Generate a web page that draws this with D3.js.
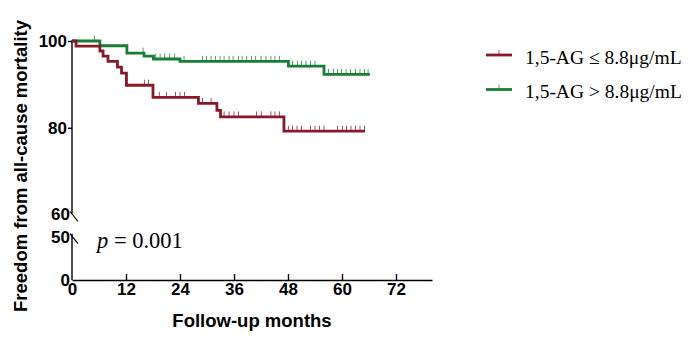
<!DOCTYPE html>
<html>
<head>
<meta charset="utf-8">
<script src="https://cdn.jsdelivr.net/npm/d3@7"></script>
<style>
  body { margin: 0; background: #fff; }
</style>
</head>
<body>
<div id="km"></div>
<script>
// Kaplan-Meier steps (months, % surviving)
let redTimes = [0, 0.9, 6.2, 6.9, 8.0, 10.1, 11.0, 12.1, 18.0, 28.1, 32.2, 33.0, 47.1, 65.1];
let redSurv  = [100, 98.8, 97.7, 96.5, 95.3, 94.0, 92.6, 89.8, 87.0, 85.6, 84.0, 82.5, 79.2, 79.2];
let redCensor = [16.1, 17.0, 19.4, 21.0, 23.0, 24.0, 25.0, 29.0, 30.9, 33.8, 34.9, 36.0, 37.0, 41.0, 42.1,
                 44.2, 45.1, 46.1, 48.1, 49.0, 50.0, 51.0, 53.0, 54.0, 55.0, 56.0, 59.0, 60.1, 61.0, 62.0,
                 63.0, 64.0, 65.0];

let greenTimes = [0, 6.2, 12.2, 16.0, 18.1, 24.0, 48.1, 56.0, 66.2];
let greenSurv  = [100, 98.9, 97.2, 96.5, 95.85, 95.3, 94.2, 92.3, 92.3];
let greenCensor = [5.0, 15.8, 18.6, 19.6, 20.6, 21.7, 22.8, 24.9, 29.0, 29.9, 30.9, 31.9, 32.9, 33.8, 34.9,
                   35.8, 37.0, 37.8, 38.8, 39.9, 40.8, 42.0, 43.1, 44.2, 45.1, 46.1, 49.0, 50.1, 51.0, 52.0,
                   53.0, 54.0, 57.0, 58.1, 59.0, 59.9, 60.9, 61.9, 63.0, 64.0, 65.0, 65.8];

let xTicks = [0, 12, 24, 36, 48, 60, 72];
let yTicksUpper = [60, 80, 100];
let yTicksLower = [0, 50];
let groupNames = ["1,5-AG \u2264 8.8\u03bcg/mL", "1,5-AG > 8.8\u03bcg/mL"];
let pText = "0.001";

let red = "#871a2a", green = "#1a7d35";
let sans = "'Liberation Sans', Arial, sans-serif";
let serif = "'Liberation Serif', 'Times New Roman', serif";

let width = 688, height = 343;
let plot = {left: 72, right: 432, top: 41, breakTop: 214.5, breakBottom: 236.7, bottom: 280};

let svg = d3.select("#km").append("svg")
    .attr("width", width)
    .attr("height", height);

let x = d3.scaleLinear().domain([0, 80]).range([plot.left, plot.right]);
// broken y axis: two pieces
let yUp = d3.scaleLinear().domain([60, 100]).range([plot.breakTop, plot.top]);
let yLow = d3.scaleLinear().domain([0, 50]).range([plot.bottom, plot.breakBottom]);

function survAt(T, S, t) {
    let s = S[0];
    for (let i = 0; i < T.length; i++) { if (T[i] <= t) s = S[i]; }
    return s;
}

function styleLabels(g) {
    g.attr("font-family", sans).attr("font-size", 17).attr("font-weight", "bold");
    g.selectAll("text").attr("fill", "#000");
}

// x axis
let xAxis = svg.append("g")
    .attr("transform", "translate(0," + plot.bottom + ")")
    .call(d3.axisBottom(x).tickValues(xTicks).tickSizeInner(-6).tickSizeOuter(0).tickPadding(3));
xAxis.select(".domain").attr("stroke", "#000").attr("stroke-width", 1.4);
xAxis.selectAll(".tick line").attr("stroke", "#000").attr("stroke-width", 1.4)
    .filter(d => d === 0).remove();
styleLabels(xAxis);

// y axis upper
let yAxisU = svg.append("g")
    .attr("transform", "translate(" + plot.left + ",0)")
    .call(d3.axisLeft(yUp).tickValues(yTicksUpper).tickSizeInner(4).tickSizeOuter(0).tickPadding(1));
yAxisU.select(".domain").remove();
yAxisU.selectAll(".tick line").attr("stroke", "#000").attr("stroke-width", 1.4)
    .filter(d => d === 60).remove();
styleLabels(yAxisU);
yAxisU.selectAll("text").filter(d => d === 60).attr("x", -2);

// y axis lower
let yAxisL = svg.append("g")
    .attr("transform", "translate(" + plot.left + ",0)")
    .call(d3.axisLeft(yLow).tickValues(yTicksLower).tickSize(0).tickPadding(2));
yAxisL.select(".domain").remove();
styleLabels(yAxisL);

// axis lines with break marks
svg.append("line")
    .attr("x1", plot.left).attr("x2", plot.left)
    .attr("y1", plot.top - 0.7).attr("y2", yUp(60) - 1)
    .attr("stroke", "#000").attr("stroke-width", 1.4);
svg.append("line")
    .attr("x1", plot.left).attr("x2", plot.left)
    .attr("y1", yLow(50) - 3).attr("y2", plot.bottom)
    .attr("stroke", "#000").attr("stroke-width", 1.4);
[yUp(60), yLow(50)].forEach(yy => {
    svg.append("line")
        .attr("x1", plot.left - 2).attr("y1", yy - 3)
        .attr("x2", plot.left + 6).attr("y2", yy + 7)
        .attr("stroke", "#000").attr("stroke-width", 1.2);
});

// curves
let line = d3.line()
    .x(d => x(d[0]))
    .y(d => yUp(d[1]))
    .curve(d3.curveStepAfter);

function drawGroup(T, S, C, col) {
    svg.append("path")
        .datum(d3.zip(T, S))
        .attr("fill", "none")
        .attr("stroke", col)
        .attr("stroke-width", 2.8)
        .attr("d", line);
    svg.selectAll(null)
        .data(C)
        .enter().append("line")
        .attr("x1", d => x(d)).attr("x2", d => x(d))
        .attr("y1", d => yUp(survAt(T, S, d)) - 1)
        .attr("y2", d => yUp(survAt(T, S, d)) - 5.5)
        .attr("stroke", col)
        .attr("stroke-opacity", 0.75)
        .attr("stroke-width", 1);
}
drawGroup(greenTimes, greenSurv, greenCensor, green);
drawGroup(redTimes, redSurv, redCensor, red);

// p value
let pt = svg.append("text")
    .attr("x", 97).attr("y", 248)
    .attr("font-family", serif)
    .attr("font-size", 22.5)
    .attr("fill", "#000");
pt.append("tspan").attr("font-style", "italic").text("p");
pt.append("tspan").text(" = " + pText);

// axis titles
svg.append("text")
    .attr("x", x(40)).attr("y", 327)
    .attr("text-anchor", "middle")
    .attr("font-family", sans)
    .attr("font-size", 18.5).attr("font-weight", "bold")
    .text("Follow-up months");

svg.append("text")
    .attr("transform", "translate(26.5,166) rotate(-90)")
    .attr("text-anchor", "middle")
    .attr("font-family", sans)
    .attr("font-size", 18.5).attr("font-weight", "bold")
    .text("Freedom from all-cause mortality");

// legend
let legendY = [55, 89.5];
[red, green].forEach((col, i) => {
    let g = svg.append("g").attr("transform", "translate(486," + legendY[i] + ")");
    g.append("line").attr("x1", 0).attr("x2", 26).attr("y1", 0).attr("y2", 0)
        .attr("stroke", col).attr("stroke-width", 2.8);
    g.append("line").attr("x1", 13).attr("x2", 13).attr("y1", -1).attr("y2", -5)
        .attr("stroke", col).attr("stroke-width", 1).attr("stroke-opacity", 0.75);
    g.append("text")
        .attr("x", 39).attr("y", 8.5)
        .attr("font-family", serif)
        .attr("font-size", 19.5)
        .attr("fill", "#000")
        .text(groupNames[i]);
});
</script>
</body>
</html>
